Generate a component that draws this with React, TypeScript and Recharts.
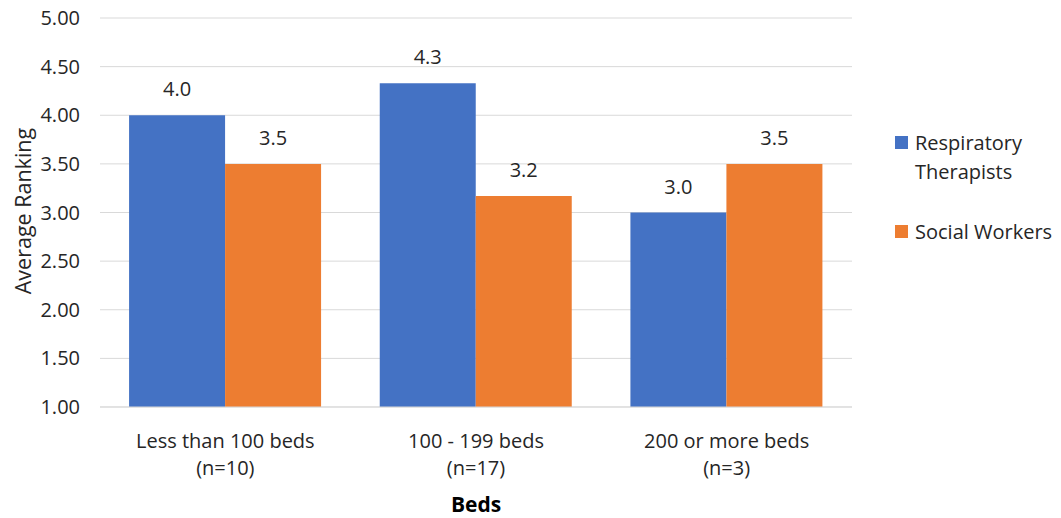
import { Bar, BarChart, CartesianGrid, LabelList, XAxis, YAxis } from "recharts";

const categories = ["Less than 100 beds", "100 - 199 beds", "200 or more beds"];
const sampleSizes = ["(n=10)", "(n=17)", "(n=3)"];
const respiratory = [4.0, 4.33, 3.0];
const social = [3.5, 3.17, 3.5];
const yTicks = [1, 1.5, 2, 2.5, 3, 3.5, 4, 4.5, 5];

const data = categories.map((name, i) => ({
  name,
  n: sampleSizes[i],
  rt: respiratory[i],
  sw: social[i],
}));

const FONT = "Open Sans, sans-serif";
const BLUE = "#4472C4";
const ORANGE = "#ED7D31";
const TEXT = "#262626";

function CategoryTick({ x, y, payload, index }: any) {
  return (
    <text x={x} y={y} textAnchor="middle" fill={TEXT} fontSize={20} fontFamily={FONT}>
      <tspan x={x} dy={33}>{payload.value}</tspan>
      <tspan x={x} dy={27}>{sampleSizes[index]}</tspan>
    </text>
  );
}

function YLabel() {
  return (
    <text x={31} y={211} transform="rotate(-90, 31, 211)" textAnchor="middle" fill={TEXT} fontSize={21.5} fontFamily={FONT}>
      Average Ranking
    </text>
  );
}

export default function App() {
  return (
    <div style={{ position: "absolute", left: 0, top: 0, width: 1061, height: 518, background: "#fff" }}>
      <BarChart
        width={1061}
        height={518}
        data={data}
        margin={{ top: 18, right: 209, left: 40, bottom: 0 }}
        barGap={0}
        barCategoryGap="11.6%"
      >
        <CartesianGrid stroke="#d9d9d9" vertical={false} />
        <XAxis
          dataKey="name"
          tick={<CategoryTick />}
          tickLine={false}
          axisLine={{ stroke: "#d9d9d9" }}
          height={111}
          interval={0}
          label={{ value: "Beds", position: "insideBottom", offset: 6, fill: "#000", fontSize: 21, fontWeight: 700, fontFamily: FONT }}
        />
        <YAxis
          domain={[1, 5]}
          ticks={yTicks}
          tickFormatter={(v: number) => v.toFixed(2)}
          tick={{ fill: TEXT, fontSize: 20, fontFamily: FONT }}
          tickLine={false}
          axisLine={false}
          width={60}
          tickMargin={14}
          label={<YLabel />}
        />
        <Bar dataKey="rt" fill={BLUE} isAnimationActive={false}>
          <LabelList dataKey="rt" position="top" offset={19} formatter={(v: any) => Number(v).toFixed(1)} style={{ fill: TEXT, fontSize: 20, fontFamily: FONT }} />
        </Bar>
        <Bar dataKey="sw" fill={ORANGE} isAnimationActive={false}>
          <LabelList dataKey="sw" position="top" offset={19} formatter={(v: any) => Number(v).toFixed(1)} style={{ fill: TEXT, fontSize: 20, fontFamily: FONT }} />
        </Bar>
      </BarChart>
      <div style={{ position: "absolute", left: 895, top: 128, fontFamily: FONT, fontSize: 20, color: TEXT, lineHeight: "29px" }}>
        <div style={{ display: "flex", alignItems: "flex-start" }}>
          <span style={{ width: 13, height: 13, background: BLUE, marginTop: 8, marginRight: 7, flex: "none" }} />
          <span>Respiratory<br />Therapists</span>
        </div>
        <div style={{ display: "flex", alignItems: "flex-start", marginTop: 31 }}>
          <span style={{ width: 13, height: 13, background: ORANGE, marginTop: 8, marginRight: 7, flex: "none" }} />
          <span>Social Workers</span>
        </div>
      </div>
    </div>
  );
}
